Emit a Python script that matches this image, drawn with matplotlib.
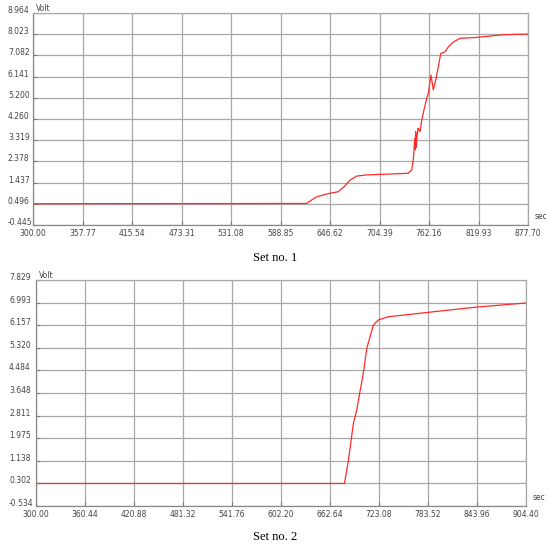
"""Two voltage traces (Set no. 1 / Set no. 2) in an old oscilloscope-export style."""

import matplotlib.pyplot as plt

# Set no. 1
x1_ticks = ["300.00", "357.77", "415.54", "473.31", "531.08", "588.85",
            "646.62", "704.39", "762.16", "819.93", "877.70"]
y1_ticks = ["-0.445", "0.496", "1.437", "2.378", "3.319", "4.260",
            "5.200", "6.141", "7.082", "8.023", "8.964"]
t1 = [300, 619, 631, 645, 656, 663, 670, 678, 690, 705, 738, 742, 744,
      745.5, 746.2, 746.6, 747.3, 747.8, 748.5, 749.5, 750.5, 751.7, 753.7,
      756.7, 759.5, 761.4, 764.5, 767.2, 770, 773, 775.9, 780.9, 784.7,
      790.6, 798.4, 817.8, 848.9, 877.7]
v1 = [0.50, 0.51, 0.81, 0.95, 1.03, 1.25, 1.55, 1.73, 1.78, 1.80, 1.85,
      2.00, 2.51, 3.40, 2.90, 3.70, 3.00, 3.30, 3.60, 3.85, 3.77, 3.70,
      4.22, 4.73, 5.18, 5.40, 6.21, 5.55, 5.99, 6.58, 7.17, 7.24, 7.46,
      7.68, 7.84, 7.88, 8.00, 8.03]

# Set no. 2
x2_ticks = ["300.00", "360.44", "420.88", "481.32", "541.76", "602.20",
            "662.64", "723.08", "783.52", "843.96", "904.40"]
y2_ticks = ["-0.534", "0.302", "1.138", "1.975", "2.811", "3.648",
            "4.484", "5.320", "6.157", "6.993", "7.829"]
t2 = [300, 680.5, 685.4, 691.5, 695.6, 697.7, 703, 708, 712, 716, 722.2,
      734.5, 791.8, 840.8, 904.4]
v2 = [0.30, 0.30, 1.17, 2.53, 3.02, 3.39, 4.25, 5.30, 5.73, 6.16, 6.35,
      6.47, 6.66, 6.82, 6.98]

GRID = "#a8a8a8"
TXT = "#444444"

fig = plt.figure(figsize=(5.5, 5.48), dpi=100)


def draw(ax, t, v, xt, yt, ypad):
    xs = [float(s) for s in xt]
    ys = [float(s) for s in yt]
    ax.plot(t, v, color="#ff2a2a", lw=0.9)
    ax.set_xlim(xs[0], xs[-1])
    ax.set_ylim(ys[0], ys[-1])
    ax.set_xticks(xs)
    ax.set_xticklabels(xt)
    ax.set_yticks(ys)
    # labels in the original are left-aligned at the figure edge
    ax.set_yticklabels(yt, va="baseline", ha="left")
    ax.tick_params(direction="in", length=3, width=0.8, color="#777777",
                   labelsize=5.5, labelcolor=TXT, pad=3)
    ax.tick_params(axis="y", pad=ypad)
    ax.grid(color=GRID, lw=0.9)
    for name, sp in ax.spines.items():
        sp.set_color("#888888" if name in ("left", "bottom") else GRID)
        sp.set_linewidth(0.9)
    ax.text(0.006, 1.0, "Volt", transform=ax.transAxes, fontsize=5.5,
            color=TXT, va="bottom", ha="left")
    ax.text(1.013, 0.02, "sec", transform=ax.transAxes, fontsize=5.5,
            color=TXT, va="bottom", ha="left")
    return ax


ax1 = fig.add_axes([0.060, 0.5894, 0.900, 0.3869])
draw(ax1, t1, v1, x1_ticks, y1_ticks, ypad=(33 - 8) * 0.72)
ax2 = fig.add_axes([0.0655, 0.0766, 0.8909, 0.4124])
draw(ax2, t2, v2, x2_ticks, y2_ticks, ypad=(36 - 9) * 0.72)

fig.text(0.5, 1 - 258 / 548, "Set no. 1", family="Liberation Serif",
         fontsize=9, ha="center", va="center")
fig.text(0.5, 1 - 537 / 548, "Set no. 2", family="Liberation Serif",
         fontsize=9, ha="center", va="center")

fig.savefig("out.png", dpi=100)
